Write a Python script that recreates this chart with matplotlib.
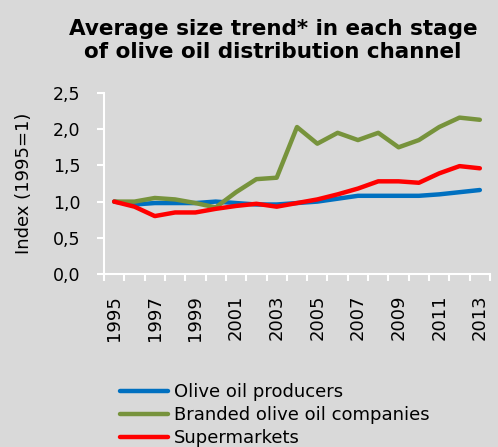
import matplotlib

matplotlib.use("Agg")
import matplotlib.pyplot as plt
from matplotlib.lines import Line2D

years = [str(y) for y in range(1995, 2014)]
producers = [1.00, 0.96, 0.98, 0.98, 0.98, 1.00, 0.98, 0.96, 0.96, 0.98,
             1.00, 1.04, 1.08, 1.08, 1.08, 1.08, 1.10, 1.13, 1.16]
branded = [1.00, 1.00, 1.05, 1.03, 0.98, 0.92, 1.13, 1.31, 1.33, 2.03,
           1.80, 1.95, 1.85, 1.95, 1.75, 1.85, 2.03, 2.16, 2.13]
supermarkets = [1.00, 0.93, 0.80, 0.85, 0.85, 0.90, 0.94, 0.97, 0.93, 0.98,
                1.03, 1.10, 1.18, 1.28, 1.28, 1.26, 1.39, 1.49, 1.46]
series_names = ["Olive oil producers", "Branded olive oil companies", "Supermarkets"]
colors = ["#0070c0", "#77933c", "#ff0000"]
y_ticks = [0.0, 0.5, 1.0, 1.5, 2.0, 2.5]

bg = "#d9d9d9"
fig = plt.figure(figsize=(4.98, 4.47), dpi=100, facecolor=bg)
ax = fig.add_axes([104 / 498, 173 / 447, 386 / 498, 181 / 447], facecolor=bg)

x = list(range(len(years)))
for vals, c in zip([producers, branded, supermarkets], colors):
    ax.plot(x, vals, color=c, lw=3.2, solid_capstyle="round", solid_joinstyle="round")

ax.set_xlim(-0.5, len(years) - 0.5)
ax.set_ylim(0, 2.5)
ax.set_yticks(y_ticks)
ax.set_yticklabels([f"{v:.1f}".replace(".", ",") for v in y_ticks], fontsize=12.5)

# category axis: ticks at the boundaries, labels on every other year
ax.set_xticks([i - 0.5 for i in range(len(years) + 1)])
ax.set_xticklabels([])
ax.set_xticks(x[::2], minor=True)
ax.set_xticklabels(years[::2], minor=True, rotation=90, fontsize=13)
ax.tick_params(axis="x", which="major", length=5, color="white", width=1.5)
ax.tick_params(axis="x", which="minor", length=0, pad=15)
ax.tick_params(axis="y", length=5, color="white", width=1.5, pad=12)

for side in ["top", "right"]:
    ax.spines[side].set_visible(False)
for side in ["left", "bottom"]:
    ax.spines[side].set_color("white")
    ax.spines[side].set_linewidth(1.5)

ax.set_ylabel("Index (1995=1)", fontsize=13, labelpad=14)

fig.text(0.548, 0.958, "Average size trend* in each stage\nof olive oil distribution channel",
         ha="center", va="top", fontsize=15.5, fontweight="bold", linespacing=1.2)

handles = [Line2D([], [], color=c, lw=3.2, solid_capstyle="round") for c in colors]
fig.legend(handles, series_names, loc="lower left", bbox_to_anchor=(0.24, 0.0),
           frameon=False, fontsize=13, handlelength=2.7, handletextpad=0.3,
           labelspacing=0.28, borderaxespad=0, borderpad=0)

fig.savefig("out.png", dpi=100, facecolor=bg)
